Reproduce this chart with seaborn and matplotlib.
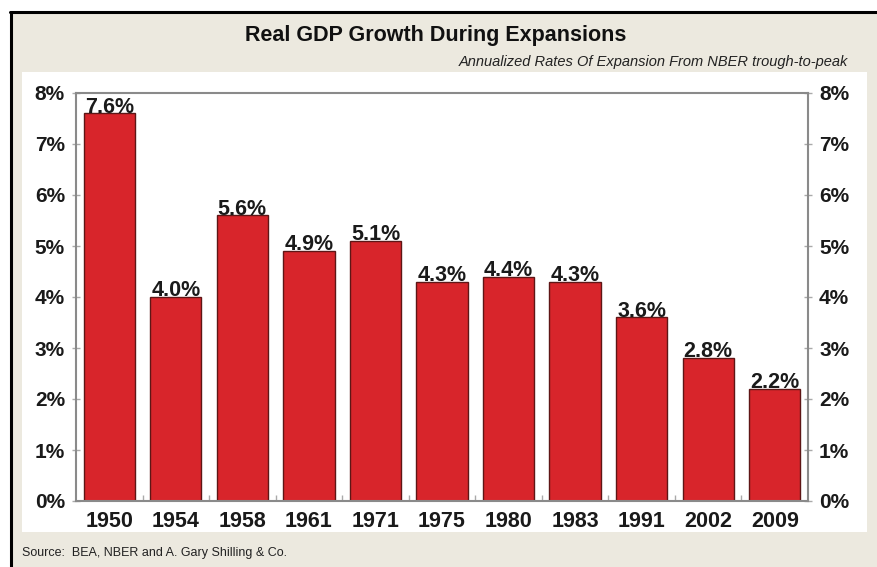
import matplotlib
matplotlib.use("Agg")
import matplotlib.pyplot as plt
import seaborn as sns
import pandas as pd
from matplotlib.patches import Rectangle
from matplotlib.lines import Line2D
from matplotlib.ticker import MultipleLocator, FuncFormatter, FixedLocator

years = ["1950", "1954", "1958", "1961", "1971", "1975", "1980", "1983", "1991", "2002", "2009"]
growth = [7.6, 4.0, 5.6, 4.9, 5.1, 4.3, 4.4, 4.3, 3.6, 2.8, 2.2]

title = "Real GDP Growth During Expansions"
subtitle = "Annualized Rates Of Expansion From NBER trough-to-peak"
source = "Source:  BEA, NBER and A. Gary Shilling & Co."

sns.set_style("white")
plt.rcParams["font.family"] = ["Liberation Sans", "DejaVu Sans"]

W, H = 878, 567
fig = plt.figure(figsize=(W / 100, H / 100), dpi=100, facecolor="white")

def fx(px):
    return px / W

def fy(py):
    return 1 - py / H

beige = "#ECE9DF"
fig.patches.append(Rectangle((fx(11), 0), 1 - fx(11), fy(12), transform=fig.transFigure,
                             facecolor=beige, edgecolor="none", zorder=0))
fig.lines.append(Line2D([fx(11), fx(11)], [0, fy(12)], transform=fig.transFigure, color="black", lw=2.2))
fig.lines.append(Line2D([fx(10), 1], [fy(12), fy(12)], transform=fig.transFigure, color="black", lw=2.2))
fig.patches.append(Rectangle((fx(22), fy(532)), fx(867) - fx(22), fy(72) - fy(532),
                             transform=fig.transFigure, facecolor="white", edgecolor="none", zorder=0))

fig.text(fx(436), fy(35), title, ha="center", va="center", fontsize=15.5, fontweight="bold", color="#111111")
fig.text(fx(848), fy(62), subtitle, ha="right", va="center", fontsize=10.5, fontstyle="italic", color="#222222")
fig.text(fx(22), fy(553), source, ha="left", va="center", fontsize=9, color="#222222")

ax = fig.add_axes([fx(76), fy(501), fx(808) - fx(76), fy(93) - fy(501)])
ax.set_zorder(5)
df = pd.DataFrame({"year": years, "growth": growth})
sns.barplot(data=df, x="year", y="growth", color="#D8252B", edgecolor="#5e1616",
            linewidth=1.0, width=0.77, saturation=1, ax=ax)
ax.set_facecolor("white")
ax.set_xlim(-0.5, len(years) - 0.5)
ax.set_ylim(0, 8)
ax.set_xlabel("")
ax.set_ylabel("")
ax.yaxis.set_major_locator(MultipleLocator(1))
ax.yaxis.set_major_formatter(FuncFormatter(lambda v, p: f"{int(round(v))}%"))
for s in ax.spines.values():
    s.set_color("#8a8a8a")
    s.set_linewidth(1.5)
ax.tick_params(axis="y", which="major", left=True, right=True, labelleft=True, labelright=True,
               direction="inout", length=6, width=1, color="#aaaaaa",
               labelsize=15, labelcolor="#1a1a1a", pad=5)
ax.tick_params(axis="x", which="major", bottom=False, labelsize=15.5, labelcolor="#1a1a1a", pad=4)
ax.xaxis.set_minor_locator(FixedLocator([i + 0.5 for i in range(len(years) - 1)]))
ax.tick_params(axis="x", which="minor", bottom=True, direction="in", length=4, width=1, color="#aaaaaa")
for lab in ax.get_xticklabels():
    lab.set_fontweight("bold")
for t in ax.yaxis.get_major_ticks():
    t.label1.set_fontweight("bold")
    t.label2.set_fontweight("bold")

ax.bar_label(ax.containers[0], labels=[f"{v:.1f}%" for v in growth], padding=-3,
             fontsize=15.5, color="#1a1a1a", fontweight="semibold")

fig.savefig("out.png", dpi=100, facecolor="white")
